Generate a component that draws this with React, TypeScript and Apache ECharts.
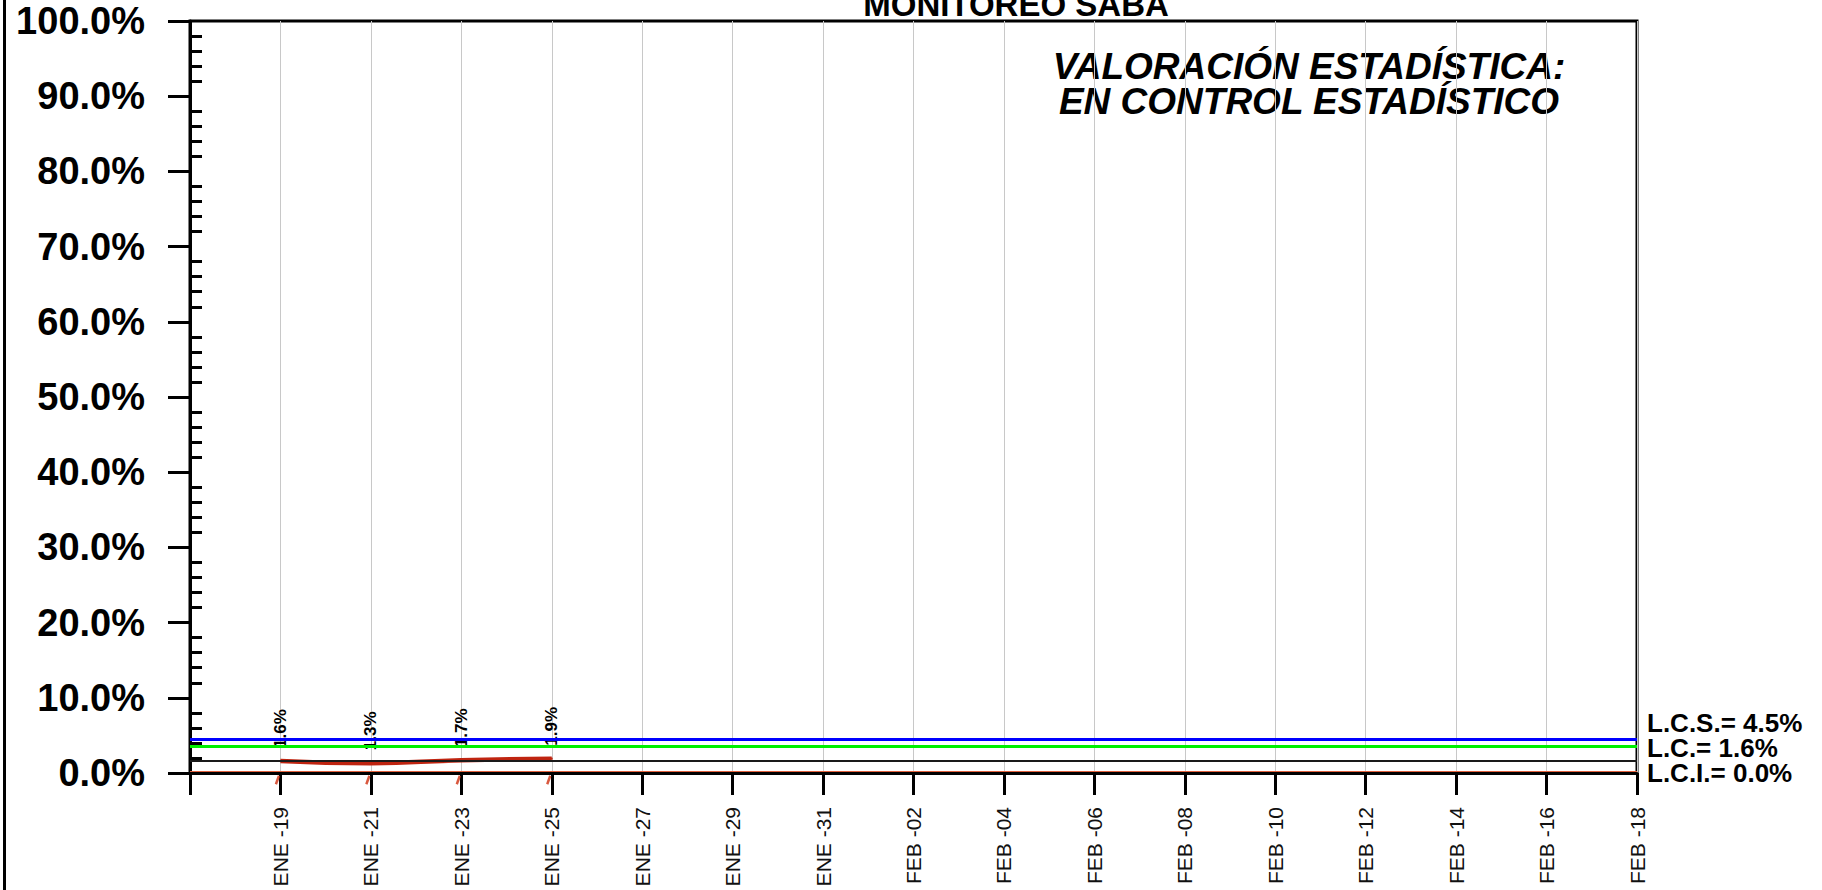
import React, { useEffect, useRef } from "react";
import * as echarts from "echarts";

const categories = [
  "", "ENE -19", "ENE -21", "ENE -23", "ENE -25", "ENE -27", "ENE -29", "ENE -31",
  "FEB -02", "FEB -04", "FEB -06", "FEB -08", "FEB -10", "FEB -12", "FEB -14", "FEB -16", "FEB -18",
];
const values: (number | null)[] = [
  null, 1.6, 1.3, 1.7, 1.9, null, null, null, null, null, null, null, null, null, null, null, null,
];
const LCS = 4.5;
const LC = 1.6;
const LCI = 0.0;
const WARN = 3.53;
const yTicks = [0, 10, 20, 30, 40, 50, 60, 70, 80, 90, 100];
const title = "MONITOREO SABA";
const assessment = ["VALORACIÓN ESTADÍSTICA:", "EN CONTROL ESTADÍSTICO"];

const FONT = "Liberation Sans";

export default function App() {
  const ref = useRef<HTMLDivElement>(null);
  useEffect(() => {
    document.body.style.margin = "0";
    const chart = echarts.init(ref.current!, null, { renderer: "svg" });
    const marks = values.map((v) => (v == null ? null : 0));
    const option: any = {
      animation: false,
      backgroundColor: "#fff",
      grid: {
        left: 190, top: 21, right: 185, bottom: 117,
        show: true, borderColor: "#000", borderWidth: 3, backgroundColor: "transparent",
      },
      xAxis: {
        type: "category",
        data: categories,
        boundaryGap: false,
        axisLine: { lineStyle: { color: "#000", width: 3 } },
        axisTick: { show: true, interval: 0, length: 22, lineStyle: { color: "#000", width: 3 } },
        axisLabel: { show: false },
        splitLine: { show: true, interval: 0, lineStyle: { color: "#c8c8c8", width: 1 } },
      },
      yAxis: [
        {
          type: "value",
          min: yTicks[0],
          max: yTicks[yTicks.length - 1],
          interval: yTicks[1] - yTicks[0],
          axisLine: { show: true, lineStyle: { color: "#000", width: 3 } },
          axisTick: { show: true, length: 22, lineStyle: { color: "#000", width: 3 } },
          axisLabel: {
            margin: 45, fontSize: 38, fontWeight: "bold", color: "#000", fontFamily: FONT,
            formatter: (v: number) => v.toFixed(1) + "%",
          },
          splitLine: { show: false },
        },
        {
          type: "value",
          position: "left",
          min: yTicks[0],
          max: yTicks[yTicks.length - 1],
          interval: yTicks[1] - yTicks[0],
          axisLine: { show: false },
          axisTick: { show: false, inside: true },
          minorTick: { show: true, splitNumber: 5, length: 12, lineStyle: { color: "#000", width: 3 } },
          axisLabel: { show: false },
          splitLine: { show: false },
        },
      ],
      series: [
        {
          type: "line",
          data: categories.map(() => null),
          z: 2,
          symbol: "none",
          silent: true,
          markLine: {
            silent: true,
            symbol: ["none", "none"],
            label: { show: false },
            data: [
              { yAxis: LCS, lineStyle: { color: "#0000ff", width: 3, type: "solid" } },
              { yAxis: WARN, lineStyle: { color: "#00f000", width: 3, type: "solid" } },
              { yAxis: LC, lineStyle: { color: "#1a1a1a", width: 2, type: "solid" } },
              { yAxis: LCI + 0.25, lineStyle: { color: "#e0603c", width: 1, type: "solid" } },
            ],
          },
        },
        {
          type: "line",
          data: values,
          z: 4,
          smooth: 0.5,
          symbol: "circle",
          symbolSize: 2,
          showSymbol: true,
          connectNulls: false,
          itemStyle: { color: "#bf2410" },
          lineStyle: { color: "#bf2410", width: 4.5 },
          label: {
            show: true,
            position: "top",
            distance: 12,
            rotate: 90,
            align: "left",
            verticalAlign: "middle",
            fontSize: 17,
            fontWeight: "bold",
            color: "#000",
            fontFamily: FONT,
            formatter: (p: any) => p.value.toFixed(1) + "%",
          },
        },
        {
          type: "scatter",
          data: marks,
          z: 4,
          clip: false,
          symbol: "rect",
          symbolSize: [2.5, 9],
          symbolRotate: -20,
          symbolOffset: [-3, 7],
          itemStyle: { color: "#d0300f" },
          silent: true,
        },
        {
          type: "custom",
          clip: false,
          silent: true,
          z: 5,
          data: categories.map((c, i) => [i, 0]),
          renderItem: (params: any, api: any) => {
            const text = categories[params.dataIndex];
            if (!text) return null;
            const p = api.coord([api.value(0), 0]);
            return {
              type: "text",
              x: p[0],
              y: p[1] + 34,
              rotation: Math.PI / 2,
              style: {
                text, font: `normal 21px "${FONT}"`, fill: "#111",
                align: "right", verticalAlign: "middle",
              },
            };
          },
        },
      ],
      graphic: [
        { type: "rect", shape: { x: 3, y: 0, width: 3, height: 890 }, style: { fill: "#000" } },
        {
          type: "text", x: 1016, y: 4,
          style: { text: title, font: `bold 33px "${FONT}"`, fill: "#000", align: "center", verticalAlign: "middle" },
        },
        {
          type: "text", x: 1309, y: 84,
          style: {
            text: assessment.join("\n"), font: `italic bold 37px "${FONT}"`,
            lineHeight: 35, fill: "#000", align: "center", verticalAlign: "middle",
          },
        },
        {
          type: "text", x: 1647, y: 748,
          style: {
            text: [`L.C.S.= ${LCS.toFixed(1)}%`, `L.C.= ${LC.toFixed(1)}%`, `L.C.I.= ${LCI.toFixed(1)}%`].join("\n"),
            font: `bold 26px "${FONT}"`, lineHeight: 25,
            fill: "#000", align: "left", verticalAlign: "middle",
          },
        },
      ],
    };
    chart.setOption(option);
    return () => chart.dispose();
  }, []);
  return <div ref={ref} style={{ width: 1822, height: 890 }} />;
}
